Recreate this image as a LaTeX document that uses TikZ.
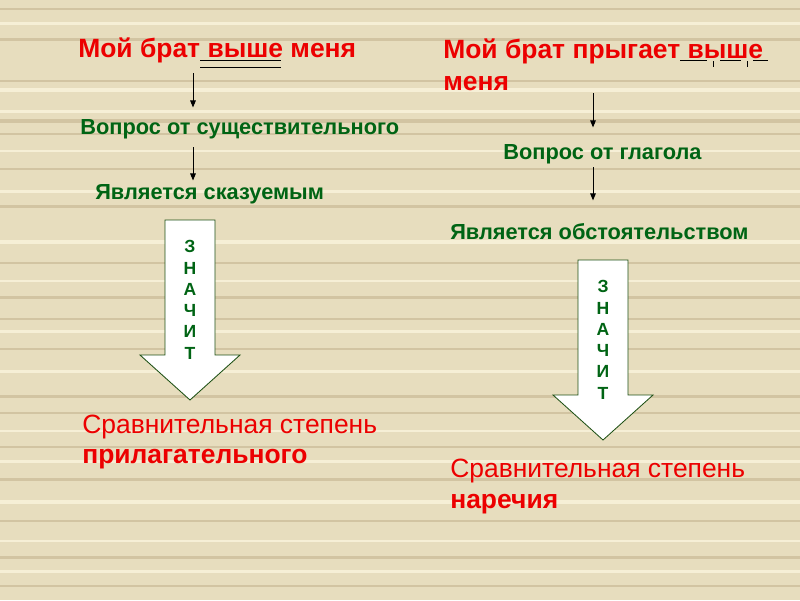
\documentclass[tikz,border=0pt]{standalone}
\usepackage{fontspec}
\setmainfont{Liberation Sans}
\usetikzlibrary{arrows.meta}
\definecolor{wood}{RGB}{231,221,190}
\definecolor{woodD}{RGB}{210,196,162}
\definecolor{woodL}{RGB}{246,239,214}
\definecolor{tred}{RGB}{236,0,0}
\definecolor{tgreen}{RGB}{0,100,20}
\definecolor{edge}{RGB}{30,80,20}
\tikzset{
  title/.style = {anchor=base west, inner sep=0pt, text=tred,
    font=\bfseries\fontsize{18.8pt}{22pt}\selectfont},% red sentence
  quest/.style = {anchor=base west, inner sep=0pt, text=tgreen,
    font=\bfseries\fontsize{15.5pt}{18pt}\selectfont},% green step
  degree/.style = {anchor=base west, inner sep=0pt, text=tred,
    font=\fontsize{18.8pt}{22pt}\selectfont},% red result
  letter/.style = {anchor=base, inner sep=0pt, text=tgreen,
    font=\bfseries\fontsize{12.5pt}{14pt}\selectfont},
  pointer/.style = {draw=black, line width=0.7pt,
    -{Triangle[length=5pt,width=4pt]}},
  bigarrow/.style = {draw=edge, fill=white, line width=0.6pt},
  undermark/.style = {draw=black, line width=0.7pt}
}

\begin{document}
\begin{tikzpicture}[x=0.025cm, y=-0.025cm]
	% background
	\fill[wood] (0,0) rectangle (800,600);
	\foreach \y/\w in {8/2, 38/3, 80/2, 119/4, 133/2, 168/2, 205/3, 262/2, 296/3,
	                   318/2, 348/2, 395/3, 412/2, 446/2, 478/3, 520/2, 556/3, 585/2}
		\fill[woodD] (0,\y) rectangle (800,\y+\w);
	\foreach \y/\w in {22/3, 88/4, 110/3, 150/2, 190/3, 240/4, 280/2, 330/3,
	                   370/3, 430/2, 460/3, 500/4, 540/2, 570/3}
		\fill[woodL] (0,\y) rectangle (800,\y+\w);
	\useasboundingbox (0,0) rectangle (800,600);
	\coordinate (colL) at (193,0);
	\coordinate (colR) at (593,0);

	% left column
	\node [title] (title1) at (78,57) {Мой брат выше меня};
	\node [quest] (quest1) at (80,134) {Вопрос от существительного};
	\node [quest] (pred1) at (95,199) {Является сказуемым};
	\node [degree] (deg1) at (82,433) {Сравнительная степень};
	\node [degree, font=\bfseries\fontsize{18.8pt}{22pt}\selectfont] (kind1) at (82,463) {прилагательного};
	\draw[undermark] (200,60) -- (281,60) (200,67) -- (281,67);
	\draw[pointer, shorten <=7.4pt, shorten >=8pt] (title1.south -| colL) -- (quest1.north -| colL);
	\draw[pointer, shorten <=6pt, shorten >=2.3pt] (quest1.south -| colL) -- (pred1.north -| colL);
	\draw[bigarrow] (165,220) -- (215,220) -- (215,355) -- (240,355) -- (190,400)
		-- (140,355) -- (165,355) -- cycle;
	\foreach \ch [count=\i] in {З,Н,А,Ч,И,Т}
		\node [letter] (letL\i) at (190,252.7+21.3*\i-21.3) {\ch};

	% right column
	\node [title] (title2) at (443,58) {Мой брат прыгает выше};
	\node [title] (title2b) at (443,90) {меня};
	\node [quest] (quest2) at (503,159) {Вопрос от глагола};
	\node [quest] (pred2) at (450,239) {Является обстоятельством};
	\node [degree] (deg2) at (450,477) {Сравнительная степень};
	\node [degree, font=\bfseries\fontsize{18.8pt}{22pt}\selectfont] (kind2) at (450,508) {наречия};
	\draw[undermark] (680,60) -- (707,60) (720,60) -- (741,60) (753,60) -- (768,60)
		(713,61) -- (713,67) (747,61) -- (747,67);
	\draw[pointer, shorten <=2.1pt, shorten >=11.6pt] (title2b.south -| colR) -- (quest2.north -| colR);
	\draw[pointer, shorten <=2.4pt, shorten >=15.9pt] (quest2.south -| colR) -- (pred2.north -| colR);
	\draw[bigarrow] (578,260) -- (628,260) -- (628,395) -- (653,395) -- (603,440)
		-- (553,395) -- (578,395) -- cycle;
	\foreach \ch [count=\i] in {З,Н,А,Ч,И,Т}
		\node [letter] (letR\i) at (603,292.7+21.3*\i-21.3) {\ch};
\end{tikzpicture}
\end{document}
